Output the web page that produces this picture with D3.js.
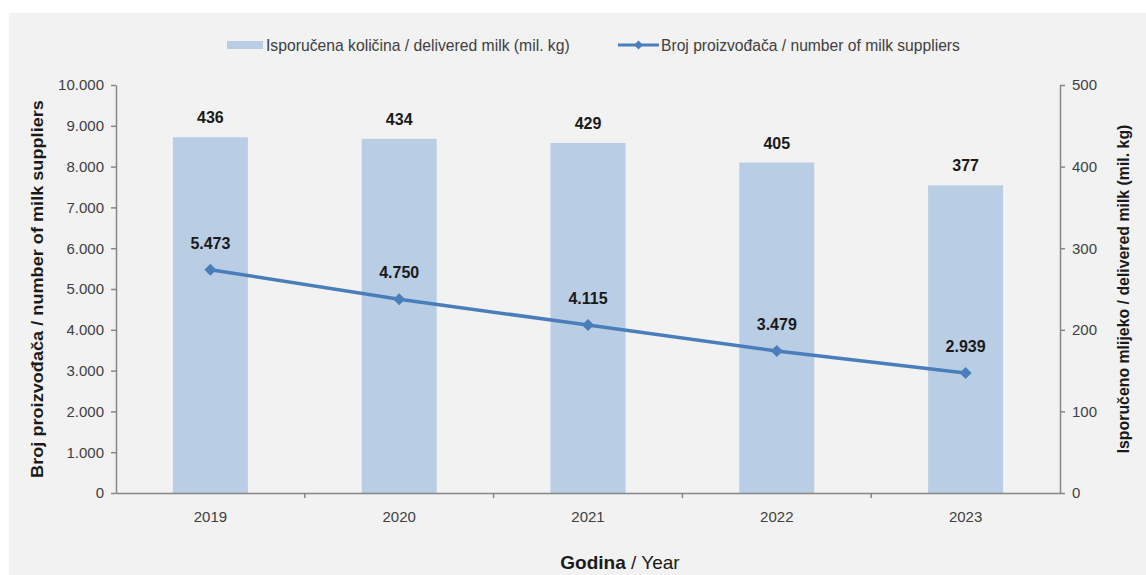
<!DOCTYPE html>
<html><head><meta charset="utf-8">
<script src="https://cdn.jsdelivr.net/npm/d3@7"></script>
<style>
body{margin:0;background:#fff;}
svg{display:block;font-family:"Liberation Sans",Arial,sans-serif;}
</style></head>
<body><svg id="c" width="1146" height="575"></svg>
<script>
const years = ["2019","2020","2021","2022","2023"];
const deliveredMilk = [436,434,429,405,377];
const suppliers = [5473,4750,4115,3479,2939];
const leftTicks = [0,1000,2000,3000,4000,5000,6000,7000,8000,9000,10000];
const rightTicks = [0,100,200,300,400,500];
const barLabel = "Isporučena količina / delivered milk (mil. kg)";
const lineLabel = "Broj proizvođača / number of milk suppliers";
const rightTitle = "Isporučeno mlijeko / delivered milk (mil. kg)";

const svg = d3.select("#c");
svg.append("rect").attr("x",9).attr("y",13).attr("width",1137).attr("height",562).attr("fill","#f2f2f2");

const L=116, R=1060, T=85, B=493;
const xb = d3.scaleBand().domain(years).range([L,R]);
const yL = d3.scaleLinear().domain([0,10000]).range([B,T]);
const yR = d3.scaleLinear().domain([0,500]).range([B,T]);
const fmt = v => d3.format(",")(v).replace(/,/g,".");
const barColor="#b9cde5", lineColor="#4a7ebb", axisColor="#868686", textColor="#404040";
const cx = d => xb(d)+xb.bandwidth()/2;

function fitText(g, txt, len, attrs){
  const t = g.append("text").text(txt);
  for (const k in attrs) t.style(k, attrs[k]);
  const w = t.node().getComputedTextLength();
  t.attr("transform", `scale(${len/w},1)`);
  return t;
}

// bars
svg.selectAll("rect.bar").data(years).enter().append("rect")
  .attr("x",d=>cx(d)-37.5).attr("width",75)
  .attr("y",(d,i)=>yR(deliveredMilk[i])).attr("height",(d,i)=>B-yR(deliveredMilk[i]))
  .attr("fill",barColor);

// axes
const gl = svg.append("g").attr("transform",`translate(${L},0)`)
  .call(d3.axisLeft(yL).tickValues(leftTicks).tickFormat(fmt).tickSize(5).tickSizeOuter(0));
const gr = svg.append("g").attr("transform",`translate(${R},0)`)
  .call(d3.axisRight(yR).tickValues(rightTicks).tickSize(5).tickSizeOuter(0));
const gx = svg.append("g").attr("transform",`translate(0,${B})`)
  .call(d3.axisBottom(xb).tickSize(0).tickSizeOuter(0));
svg.selectAll("line.xt").data(years.slice(1)).enter().append("line")
  .attr("x1",d=>xb(d)).attr("x2",d=>xb(d)).attr("y1",B).attr("y2",B+5)
  .attr("stroke",axisColor).attr("stroke-width",1.5);
[gl,gr,gx].forEach(g=>{
  g.selectAll("path").attr("stroke",axisColor).attr("stroke-width",1.5);
  g.selectAll("line").attr("stroke",axisColor).attr("stroke-width",1.5);
  g.selectAll("text").attr("fill",textColor).style("font-size","15px").style("font-family","'Liberation Sans',Arial,sans-serif");
});
gl.selectAll("text").attr("x",-12);
gr.selectAll("text").attr("x",12);
gx.selectAll("text").attr("dy","1.75em");

// line
const line = d3.line().x((d,i)=>cx(years[i])).y(d=>yL(d));
svg.append("path").datum(suppliers).attr("d",line).attr("fill","none")
  .attr("stroke",lineColor).attr("stroke-width",3.5);
svg.selectAll("path.dm").data(suppliers).enter().append("path")
  .attr("d",d3.symbol().type(d3.symbolSquare).size(72))
  .attr("transform",(d,i)=>`translate(${cx(years[i])},${yL(d)}) rotate(45)`)
  .attr("fill",lineColor);

// labels
svg.selectAll("text.bl").data(deliveredMilk).enter().append("text")
  .attr("x",(d,i)=>cx(years[i])).attr("y",d=>yR(d)-14)
  .attr("text-anchor","middle").style("font-size","16px").style("font-weight","bold")
  .attr("fill","#1a1a1a").text(d=>d);
svg.selectAll("text.ll").data(suppliers).enter().append("text")
  .attr("x",(d,i)=>cx(years[i])).attr("y",d=>yL(d)-21)
  .attr("text-anchor","middle").style("font-size","16px").style("font-weight","bold")
  .attr("fill","#1a1a1a").text(d=>fmt(d));

// axis titles
const lt = svg.append("g").attr("transform",`translate(43,${(T+B)/2}) rotate(-90)`);
fitText(lt, lineLabel, 378, {"font-size":"16px","font-weight":"bold","fill":"#1a1a1a","text-anchor":"middle"});
const rt = svg.append("g").attr("transform",`translate(1129,${(T+B)/2}) rotate(-90)`);
fitText(rt, rightTitle, 329, {"font-size":"16px","font-weight":"bold","fill":"#1a1a1a","text-anchor":"middle"});
const xt = svg.append("text").attr("x",(L+R)/2+32).attr("y",569).attr("text-anchor","middle")
  .style("font-size","19px").attr("fill","#1a1a1a");
xt.append("tspan").style("font-weight","bold").text("Godina");
xt.append("tspan").text(" / Year");

// legend
const lg = svg.append("g");
lg.append("rect").attr("x",227).attr("y",41).attr("width",36).attr("height",8).attr("fill",barColor);
const l1 = lg.append("g").attr("transform","translate(266,51)");
fitText(l1, barLabel, 304, {"font-size":"16px","fill":textColor});
lg.append("line").attr("x1",618).attr("x2",659).attr("y1",45).attr("y2",45).attr("stroke",lineColor).attr("stroke-width",3);
lg.append("path").attr("d",d3.symbol().type(d3.symbolSquare).size(40)).attr("transform","translate(638.5,45) rotate(45)").attr("fill",lineColor);
const l2 = lg.append("g").attr("transform","translate(661,51)");
fitText(l2, lineLabel, 299, {"font-size":"16px","fill":textColor});
</script></body></html>
